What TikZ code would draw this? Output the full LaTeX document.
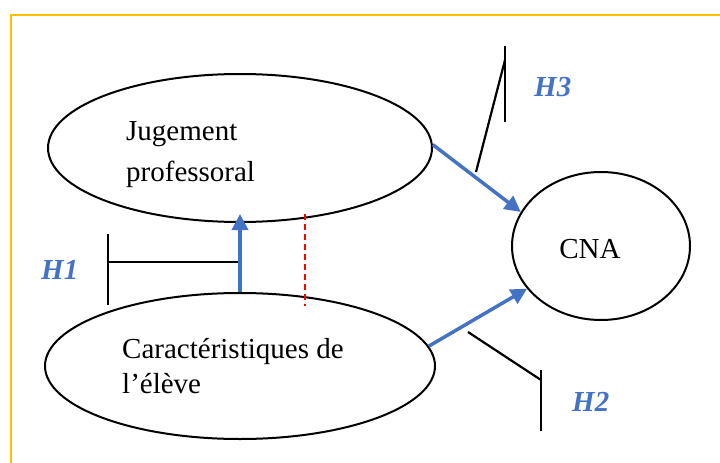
\documentclass[tikz,border=0pt]{standalone}
\usepackage{fontspec}
\setmainfont{Liberation Serif}
\usetikzlibrary{shapes.geometric,arrows.meta}
\definecolor{hblue}{HTML}{4472C4}
\definecolor{frameorange}{HTML}{FFC000}
\begin{document}
\begin{tikzpicture}[x=1pt,y=-1pt,
  ellipsebox/.style={draw=black, line width=2pt, ellipse, inner sep=0pt},
  txt/.style={font=\fontsize{29}{35}\selectfont, anchor=base west, inner sep=0pt, align=left},
  hlabel/.style={font=\fontsize{29}{35}\selectfont\bfseries\itshape, text=hblue, anchor=base west, inner sep=0pt},
  bluearrow/.style={draw=hblue, line width=3.5pt, -{Triangle[length=16pt,width=16pt]}},
  bracket/.style={draw=black, line width=2.2pt},
  reddash/.style={draw=red, line width=1.8pt, dash pattern=on 6pt off 4pt},
]
\useasboundingbox (0,0) rectangle (720,463);
\draw[frameorange, line width=2.4pt] (760,15) -- (11,15) -- (11,500);

\node[ellipsebox, minimum width=384pt, minimum height=148pt] (up) at (240,148) {};
\node[ellipsebox, minimum width=390pt, minimum height=146pt] (low) at (240,366) {};
\node[ellipsebox, minimum width=178pt, minimum height=148pt] (cna) at (601,246) {};

\node[txt, font=\fontsize{29}{41}\selectfont] (jt) at (126,181) {Jugement\\professoral};
\node[txt, font=\fontsize{29}{35}\selectfont] (ct) at (122,393) {Caractéristiques de\\l’élève};
\node[font=\fontsize{29}{35}\selectfont, anchor=base, inner sep=0pt] (cnat) at (590,258) {CNA};

\draw[bluearrow] (low.north) -- ([yshift=9pt]up.south);
\draw[bluearrow] (up.1.5) -- (cna.157);
\draw[bluearrow] (low.6) -- (cna.210);

% H1 bracket
\coordinate (h1t) at (108,234);
\coordinate (h1b) at (108,305);
\coordinate (h1m) at (108,262);
\draw[bracket] (h1t) -- (h1b);
\draw[bracket] (h1m) -- ([xshift=-1.8pt]h1m -| low.north);

% H3 bracket
\coordinate (h3t) at (505,46);
\coordinate (h3b) at (505,122);
\coordinate (h3j) at (505,60);
\coordinate (h3e) at (476,172);
\draw[bracket] (h3t) -- (h3b);
\draw[bracket] (h3j) -- (h3e);

% H2 bracket
\coordinate (h2s) at (468,332);
\coordinate (h2j) at (541,380);
\coordinate (h2t) at (541,370);
\coordinate (h2b) at (541,431);
\draw[bracket] (h2s) -- (h2j);
\draw[bracket] (h2t) -- (h2b);

% red dashed line
\coordinate (rt) at (305,214);
\coordinate (rb) at (305,306);
\draw[reddash] (rt) -- (rb);

\node[hlabel] (h1) at (41,279) {H1};
\node[hlabel] (h2) at (572,411) {H2};
\node[hlabel] (h3) at (534,96) {H3};
\end{tikzpicture}
\end{document}
